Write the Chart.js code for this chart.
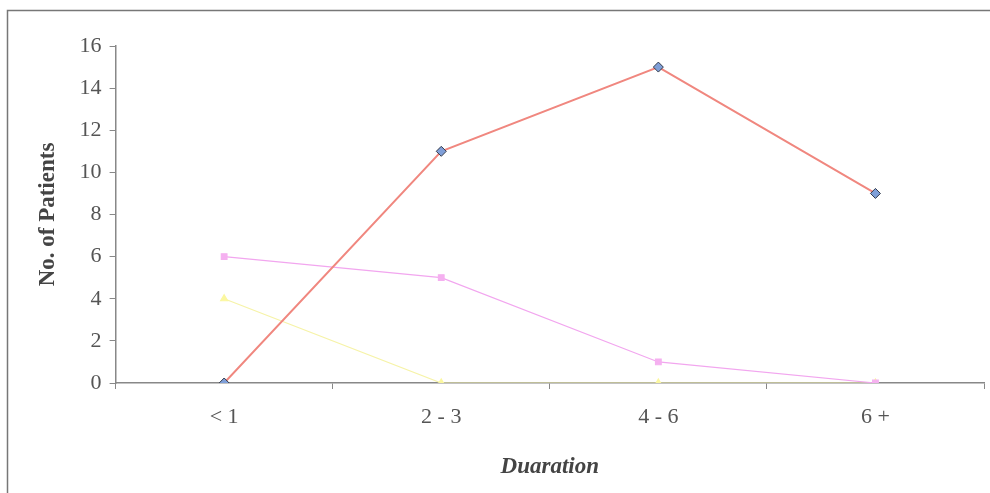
<!DOCTYPE html>
<html lang="en">
<head>
  <meta charset="UTF-8">
  <title>No. of Patients by Duaration</title>
  <script src="https://cdn.jsdelivr.net/npm/chart.js@4.4.0/dist/chart.umd.min.js"></script>
  <style>
    html, body { margin: 0; padding: 0; background: #fff; }
    #wrap { width: 990px; height: 493px; }
  </style>
</head>
<body>
<div id="wrap"><canvas id="chart"></canvas></div>
<script>
  // data
  const durations = ['< 1', '2 - 3', '4 - 6', '6 +'];
  const seriesA = [0, 11, 15, 9];
  const seriesB = [6, 5, 1, 0];
  const seriesC = [4, 0, 0, 0];
  const yTicks = [0, 2, 4, 6, 8, 10, 12, 14, 16];

  const serif = "'Liberation Serif', 'DejaVu Serif', serif";

  // grey frame round the chart, like the scanned figure
  const frame = {
    id: 'frame',
    beforeDraw(chart) {
      const ctx = chart.ctx;
      ctx.save();
      ctx.strokeStyle = '#777';
      ctx.lineWidth = 1.5;
      ctx.strokeRect(7.5, 10.5, 990, 490);
      ctx.restore();
    }
  };

  new Chart(document.getElementById('chart'), {
    type: 'line',
    data: {
      labels: durations,
      datasets: [
        {
          label: 'A', data: seriesA,
          borderColor: '#f0877f', borderWidth: 2,
          pointStyle: 'rectRot', pointRadius: 5,
          pointBackgroundColor: '#7f9fd8', pointBorderColor: '#333a4a', pointBorderWidth: 1
        },
        {
          label: 'B', data: seriesB,
          borderColor: '#f2a6ef', borderWidth: 1.2,
          pointStyle: 'rect', pointRadius: 4,
          pointBackgroundColor: '#f5b0f0', pointBorderColor: '#f5b0f0'
        },
        {
          label: 'C', data: seriesC,
          borderColor: '#f6f3a8', borderWidth: 1.2,
          pointStyle: 'triangle', pointRadius: 4,
          pointBackgroundColor: '#fbf7a0', pointBorderColor: '#fbf7a0'
        }
      ]
    },
    options: {
      responsive: true,
      maintainAspectRatio: false,
      animation: false,
      layout: { padding: { top: 46, right: 3, bottom: 8, left: 30 } },
      plugins: { legend: { display: false }, tooltip: { enabled: false } },
      scales: {
        x: {
          offset: true,
          grid: { offset: true, drawOnChartArea: false, tickLength: 6, color: '#888' },
          border: { color: '#888', width: 1.5 },
          ticks: { color: '#555', font: { family: serif, size: 22 }, padding: 15 },
          title: { display: true, text: 'Duaration', color: '#444',
                   font: { family: serif, size: 23, weight: 'bold', style: 'italic' }, padding: { top: 8 } }
        },
        y: {
          min: 0, max: 16,
          afterBuildTicks: s => { s.ticks = yTicks.map(v => ({ value: v })); },
          grid: { drawOnChartArea: false, tickLength: 6, color: '#888' },
          border: { color: '#888', width: 1.5 },
          ticks: { color: '#555', font: { family: serif, size: 22 }, padding: 8 },
          title: { display: true, text: 'No. of Patients', color: '#444',
                   font: { family: serif, size: 23, weight: 'bold' }, padding: { bottom: 10 } }
        }
      }
    },
    plugins: [frame]
  });
</script>
</body>
</html>
